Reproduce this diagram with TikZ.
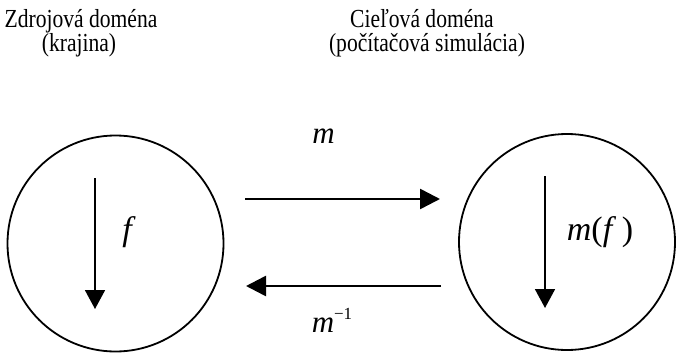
\documentclass[tikz,border=0pt]{standalone}
\usepackage{fontspec}
\setmainfont{Liberation Serif}
\usetikzlibrary{arrows.meta}
\begin{document}
\begin{tikzpicture}[x=1pt,y=-1pt,
  dom/.style={draw, line width=1.8pt, circle, minimum size=216pt, inner sep=0pt},
  harr/.style={line width=2.6pt, -{Triangle[length=20pt,width=20pt]}},
  varr/.style={line width=1.8pt, -{Triangle[length=19pt,width=20pt]}},
  lbl/.style={font=\fontsize{26}{24}\selectfont, anchor=base, xscale=0.83, inner sep=0pt},
  mlbl/.style={font=\fontsize{31}{34}\selectfont, inner sep=0pt, anchor=base}]
\useasboundingbox (0,0) rectangle (679,353);
\node[lbl] (t1a) at (81,28) {Zdrojová doména};
\node[lbl] (t1b) at (79,52) {(krajina)};
\node[lbl] (t2a) at (422,28) {Cieľová doména};
\node[lbl] (t2b) at (427,52) {(počítačová simulácia)};
\node[dom] (src) at (115.5,243.5) {};
\node[dom] (tgt) at (567,242) {};
\coordinate (a1) at (245,199);
\coordinate (a2) at (440,199);
\coordinate (b1) at (441,286);
\coordinate (b2) at (246,286);
\node[mlbl] (m) at (323.5,143) {\textit{m}};
\node[mlbl] (minv) at (332,332) {\textit{m}\raisebox{13pt}{\fontsize{17}{18}\selectfont −1}};
\draw[harr] (a1) -- (a2);
\draw[harr] (b1) -- (b2);
\coordinate (f1) at (95,178);
\coordinate (f2) at (95,309);
\coordinate (g1) at (545,176);
\coordinate (g2) at (545,308);
\draw[varr] (f1) -- (f2);
\draw[varr] (g1) -- (g2);
\node[mlbl, font=\fontsize{34}{36}\selectfont] (f) at (129,240) {\textit{f}};
\node[mlbl, font=\fontsize{34}{36}\selectfont] (mf) at (600,240) {\textit{m}(\textit{f}\,)};
\end{tikzpicture}
\end{document}
